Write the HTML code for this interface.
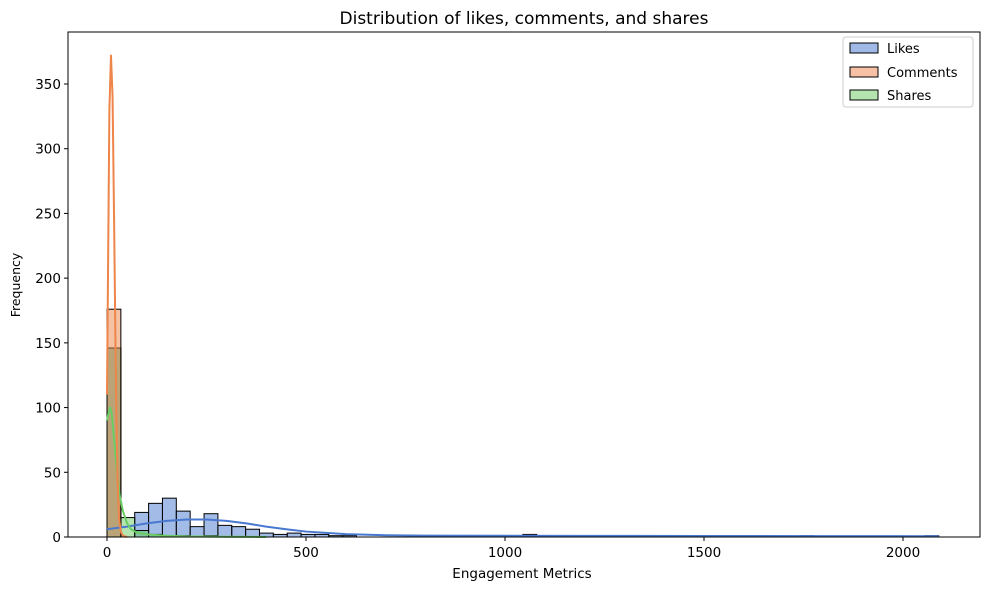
<!DOCTYPE html>
<html><head><meta charset="utf-8"><style>
body{margin:0;background:#fff;font-family:"Liberation Sans","DejaVu Sans",sans-serif}
svg text{font-family:"DejaVu Sans","Liberation Sans",sans-serif}
</style></head><body>
<svg id="chart" width="989" height="590" viewBox="0 0 989 590">
<text x="524" y="24" text-anchor="middle" font-size="17">Distribution of likes, comments, and shares</text>
<g id="plot"></g>
<rect x="68" y="32" width="912" height="505" fill="none" stroke="#000" stroke-width="1"/>
<text x="522" y="578" text-anchor="middle" font-size="13.5">Engagement Metrics</text>
<text x="20" y="285" text-anchor="middle" font-size="12.5" transform="rotate(-90 20 285)">Frequency</text>
<g>
<rect x="843" y="37" width="130" height="70" rx="3" fill="#fff" stroke="#ccc"/>
<rect x="850" y="43" width="28" height="10" fill="#a1b9e6" stroke="#000"/>
<text x="887" y="53" font-size="13">Likes</text>
<rect x="850" y="67" width="28" height="10" fill="#f6c1a4" stroke="#000"/>
<text x="887" y="77" font-size="13">Comments</text>
<rect x="850" y="90" width="28" height="10" fill="#b4e5b1" stroke="#000"/>
<text x="887" y="100" font-size="13">Shares</text>
</g>
</svg>
<script>
const binWidth = 34.83;
const likesCounts = [146,0,19,26,30,20,8,18,9,8,6,3,2,3,2,2,1,1,0,0,0,0,0,0,0,0,0,0,0,0,2,0,0,1,0,0,0,0,1,1,0,0,0,0,0,0,1,0,0,0,1,0,0,0,0,0,0,0,0,1];
const commentsCounts = [176,0,0,0,0,0,0,0,0,0,0,0,0,0,0,0];
const sharesCounts = [146,15,5,2,1,1,0,1,0,0,0,0];
const likesKdeX = [0,50,100,150,200,250,300,350,400,450,500,600,700,800,1000,1200,1500,1800,2090];
const likesKdeY = [6,8,10.5,12.5,13.5,13.5,12.5,10.5,8,6,4.2,2.2,1.4,1.1,1,0.9,0.8,0.7,0.6];
const commentsKdeX = [0,3,6,10,14,18,22,26,30,35,40,50];
const commentsKdeY = [110,220,330,372,340,240,130,50,15,4,1,0];
const sharesKdeX = [0,4,8,12,18,25,32,40,50,60,75,100,150,200,300,400];
const sharesKdeY = [90,96,100,95,75,50,32,20,11,6,3.5,2,1,0.5,0.2,0];
const xTicks = [0,500,1000,1500,2000];
const yTicks = [0,50,100,150,200,250,300,350];

const NS="http://www.w3.org/2000/svg";
const x = v => 107 + v*0.398;
const y = v => 537 - v*1.2943;
const g = document.getElementById('plot');
function mk(tag, attrs){const e=document.createElementNS(NS,tag);for(const k in attrs)e.setAttribute(k,attrs[k]);g.appendChild(e);return e;}
function bars(counts, fill, name){
  counts.forEach((c,i)=>{ if(c<=0) return;
    const r=mk('rect',{x:x(i*binWidth),y:y(c),width:x((i+1)*binWidth)-x(i*binWidth),height:y(0)-y(c),fill:fill,'fill-opacity':0.5,stroke:'#000','stroke-width':1});
    
    
  });
}
function line(xs, ys, col, name){
  const p=mk('polyline',{points:xs.map((v,i)=>x(v)+','+y(ys[i])).join(' '),fill:'none',stroke:col,'stroke-width':2,'stroke-linejoin':'round'});
  
  
}
bars(likesCounts,'#4878d0','likes');
bars(sharesCounts,'#6acc64','shares');
bars(commentsCounts,'#ee854a','comments');
line(likesKdeX,likesKdeY,'#4878d0','likes-kde-line');
line(sharesKdeX,sharesKdeY,'#6acc64','shares-kde-line');
line(commentsKdeX,commentsKdeY,'#ee854a','comments-kde-line');
xTicks.forEach(t=>{
  const l=mk('line',{x1:x(t),x2:x(t),y1:537,y2:541,stroke:'#000'});
  
  
  const s=mk('text',{x:x(t),y:557,'text-anchor':'middle','font-size':13.5});
  s.textContent=t;
  
  
});
yTicks.forEach(t=>{
  const l=mk('line',{x1:64,x2:68,y1:y(t),y2:y(t),stroke:'#000'});
  
  
  const s=mk('text',{x:61,y:y(t)+5,'text-anchor':'end','font-size':13.5});
  s.textContent=t;
  
  
});
</script>
</body></html>
